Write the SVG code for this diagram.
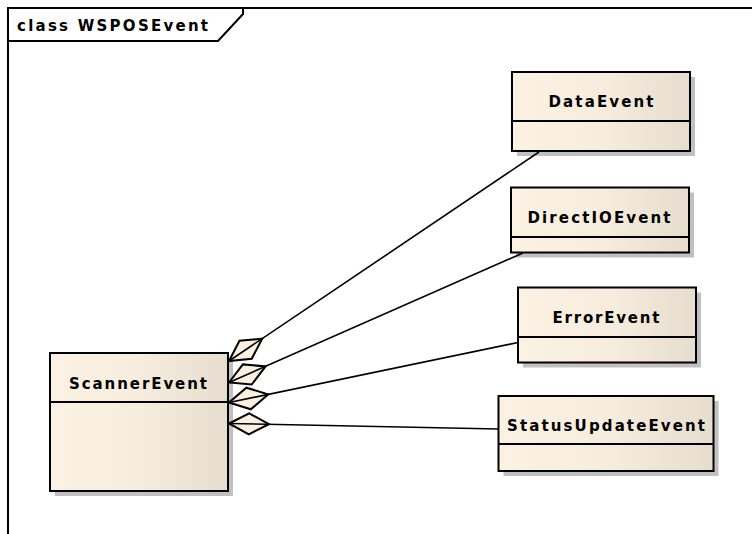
<svg xmlns="http://www.w3.org/2000/svg" width="752" height="534" viewBox="0 0 752 534">
<defs>
<linearGradient id="g" x1="0" y1="0" x2="1" y2="0">
<stop offset="0" stop-color="#FCF2E3"/>
<stop offset="0.5" stop-color="#F6EDDE"/>
<stop offset="1" stop-color="#E6DDCE"/>
</linearGradient>
<style>
.sh{fill:#C0C0C0;stroke:none}
.bx{fill:url(#g);stroke:#000;stroke-width:2}
.dv{stroke:#000;stroke-width:2}
.t{font-family:"DejaVu Sans","Liberation Sans",Arial,sans-serif;font-weight:bold;font-size:15px;fill:#000;text-anchor:middle}
.fr{fill:none;stroke:#000;stroke-width:2}
.ln{stroke:#000;stroke-width:1.6;fill:none}
.dm{fill:#FBF0DF;stroke:#000;stroke-width:2;stroke-linejoin:miter}
</style>
</defs>
<rect width="752" height="534" fill="#fff"/>
<g id="frame">
<path class="fr" d="M8,534 V8 H752"/>
<path class="fr" d="M8,41 H218 L243,14 V8"/>
<text x="17" y="31" class="t" style="text-anchor:start" textLength="191" lengthAdjust="spacing">class WSPOSEvent</text>
</g>
<g id="ScannerEvent">
<rect class="sh" x="55" y="358" width="178" height="138"/>
<rect class="bx" x="50" y="353" width="178" height="138"/>
<line class="dv" x1="50" y1="402" x2="228" y2="402"/>
<text x="138" y="389" class="t" textLength="138" lengthAdjust="spacing">ScannerEvent</text>
</g>
<g id="DataEvent">
<rect class="sh" x="517" y="77" width="178" height="79"/>
<rect class="bx" x="512" y="72" width="178" height="79"/>
<line class="dv" x1="512" y1="121" x2="690" y2="121"/>
<text x="601" y="107" class="t" textLength="105" lengthAdjust="spacing">DataEvent</text>
</g>
<g id="DirectIOEvent">
<rect class="sh" x="516" y="192.5" width="178" height="65"/>
<rect class="bx" x="511" y="187.5" width="178" height="65"/>
<line class="dv" x1="511" y1="237" x2="689" y2="237"/>
<text x="599" y="223" class="t" textLength="143" lengthAdjust="spacing">DirectIOEvent</text>
</g>
<g id="ErrorEvent">
<rect class="sh" x="523" y="292.5" width="178" height="75"/>
<rect class="bx" x="518" y="287.5" width="178" height="75"/>
<line class="dv" x1="518" y1="337" x2="696" y2="337"/>
<text x="606" y="323" class="t" textLength="107" lengthAdjust="spacing">ErrorEvent</text>
</g>
<g id="StatusUpdateEvent">
<rect class="sh" x="503.5" y="401" width="215" height="75"/>
<rect class="bx" x="498.5" y="396" width="215" height="75"/>
<line class="dv" x1="498.5" y1="444" x2="713.5" y2="444"/>
<text x="606" y="431" class="t" textLength="198" lengthAdjust="spacing">StatusUpdateEvent</text>
</g>
<g id="connectors">
<polygon class="dm" points="229,361 239.5,340.8 262.2,338.6 251.7,358.8"/>
<line class="ln" x1="229" y1="361" x2="539" y2="152"/>
<polygon class="dm" points="229,382.5 242.9,364.4 265.6,366.4 251.7,384.5"/>
<line class="ln" x1="229" y1="382.5" x2="523" y2="253"/>
<polygon class="dm" points="229,402.5 246.4,387.7 268.2,394.4 250.8,409.3"/>
<line class="ln" x1="229" y1="402.5" x2="518" y2="342.5"/>
<polygon class="dm" points="229,423.5 249.2,413.3 269,424.2 248.8,434.3"/>
<line class="ln" x1="229" y1="423.5" x2="498.5" y2="429"/>
</g>
</svg>
